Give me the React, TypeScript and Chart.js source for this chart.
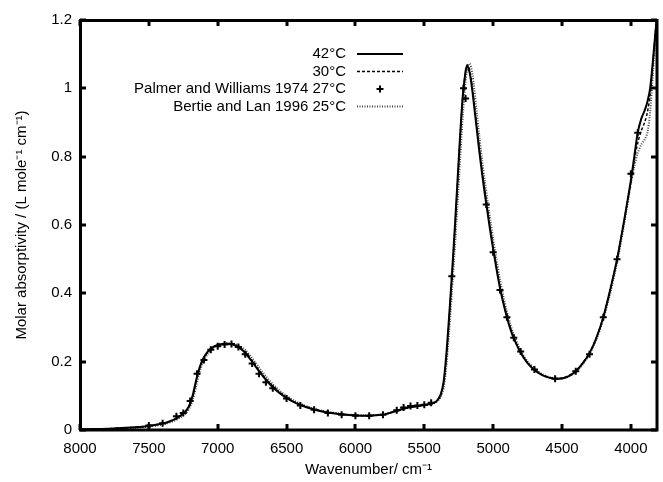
import React, { useEffect, useRef } from "react";
import { Chart, registerables } from "chart.js";

Chart.register(...registerables);

// ---------- data ----------
const xTickValues = [8000, 7500, 7000, 6500, 6000, 5500, 5000, 4500, 4000];
const yTickValues = [0, 0.2, 0.4, 0.6, 0.8, 1.0, 1.2];

const wnLine = [
  8000, 7900, 7800, 7700, 7600, 7500, 7400, 7350, 7300, 7250, 7220, 7200, 7180, 7160, 7140, 7120, 7100,
  7075, 7050, 7025, 7000, 6975, 6950, 6925, 6900, 6875, 6850, 6825, 6800, 6750, 6700, 6650, 6600, 6550,
  6500, 6450, 6400, 6350, 6300, 6250, 6200, 6150, 6100, 6050, 6000, 5950, 5900, 5850, 5800, 5750, 5700,
  5650, 5600, 5550, 5500, 5450, 5420, 5400, 5380, 5360, 5340, 5320, 5300, 5280, 5260, 5240, 5220, 5200,
  5190, 5180, 5170, 5160, 5150, 5140, 5120, 5100, 5080, 5060, 5040, 5020, 5000, 4975, 4950, 4925, 4900,
  4875, 4850, 4800, 4750, 4700, 4650, 4600, 4550, 4500, 4450, 4400, 4350, 4300, 4250, 4200, 4150, 4100,
  4050, 4000, 3975, 3950, 3925, 3900, 3880, 3860, 3840, 3820, 3810,
];

const abs42 = [
  0.002, 0.003, 0.004, 0.006, 0.008, 0.012, 0.019, 0.025, 0.034, 0.048, 0.062, 0.078, 0.104, 0.14, 0.172, 0.196, 0.213,
  0.228, 0.238, 0.245, 0.249, 0.251, 0.252, 0.252, 0.251, 0.248, 0.242, 0.235, 0.225, 0.2, 0.172, 0.147, 0.125, 0.108,
  0.094, 0.082, 0.073, 0.066, 0.06, 0.055, 0.051, 0.048, 0.046, 0.044, 0.043, 0.042, 0.042, 0.043, 0.045, 0.05, 0.056,
  0.062, 0.067, 0.07, 0.073, 0.077, 0.082, 0.09, 0.105, 0.14, 0.22, 0.33, 0.45, 0.58, 0.72, 0.86, 0.98, 1.05,
  1.065, 1.06, 1.045, 1.02, 0.99, 0.955, 0.885, 0.815, 0.75, 0.69, 0.635, 0.58, 0.53, 0.47, 0.415, 0.37, 0.33,
  0.296, 0.268, 0.226, 0.196, 0.176, 0.162, 0.154, 0.15, 0.151, 0.158, 0.172, 0.195, 0.225, 0.27, 0.33, 0.41, 0.5,
  0.61, 0.73, 0.8, 0.87, 0.91, 0.935, 0.96, 1.0, 1.08, 1.17, 1.21,
];

const abs30 = [
  0.002, 0.003, 0.004, 0.006, 0.008, 0.012, 0.019, 0.025, 0.034, 0.047, 0.06, 0.075, 0.1, 0.135, 0.168, 0.193, 0.211,
  0.227, 0.238, 0.245, 0.25, 0.252, 0.253, 0.253, 0.252, 0.249, 0.244, 0.237, 0.228, 0.203, 0.175, 0.15, 0.128, 0.11,
  0.096, 0.084, 0.075, 0.067, 0.061, 0.056, 0.052, 0.049, 0.046, 0.044, 0.043, 0.042, 0.042, 0.043, 0.045, 0.05, 0.056,
  0.062, 0.067, 0.07, 0.073, 0.077, 0.081, 0.088, 0.102, 0.135, 0.21, 0.32, 0.44, 0.57, 0.71, 0.85, 0.975, 1.05,
  1.068, 1.066, 1.052, 1.028, 0.998, 0.965, 0.895, 0.825, 0.76, 0.7, 0.643, 0.588, 0.537, 0.476, 0.42, 0.374, 0.333,
  0.298, 0.27, 0.227, 0.197, 0.177, 0.163, 0.155, 0.151, 0.152, 0.159, 0.173, 0.196, 0.226, 0.27, 0.33, 0.41, 0.5,
  0.61, 0.725, 0.79, 0.84, 0.875, 0.9, 0.93, 0.98, 1.07, 1.17, 1.21,
];

const absBertie = [
  0.0, 0.0, 0.001, 0.003, 0.006, 0.01, 0.016, 0.022, 0.03, 0.043, 0.055, 0.068, 0.09, 0.122, 0.156, 0.184, 0.204,
  0.221, 0.234, 0.243, 0.248, 0.251, 0.253, 0.254, 0.254, 0.252, 0.248, 0.242, 0.234, 0.21, 0.183, 0.157, 0.134, 0.115,
  0.1, 0.087, 0.077, 0.069, 0.062, 0.057, 0.053, 0.05, 0.047, 0.045, 0.044, 0.043, 0.043, 0.044, 0.046, 0.05, 0.056,
  0.062, 0.067, 0.07, 0.073, 0.076, 0.08, 0.086, 0.097, 0.122, 0.185, 0.285, 0.4, 0.52, 0.65, 0.79, 0.92, 1.02,
  1.05, 1.07, 1.072, 1.062, 1.04, 1.01, 0.935, 0.86, 0.79, 0.728, 0.67, 0.613, 0.56, 0.498, 0.44, 0.39, 0.347,
  0.31, 0.28, 0.233, 0.201, 0.18, 0.165, 0.156, 0.151, 0.151, 0.157, 0.17, 0.192, 0.222, 0.265, 0.325, 0.4, 0.49,
  0.6, 0.72, 0.77, 0.81, 0.835, 0.85, 0.87, 0.93, 1.04, 1.16, 1.21,
];

const wnPalmer = [
  7500, 7400, 7300, 7250, 7200, 7150, 7100, 7050, 7000, 6950, 6900, 6850, 6800, 6750, 6700, 6650, 6600, 6500,
  6400, 6300, 6200, 6100, 6000, 5900, 5800, 5700, 5650, 5600, 5550, 5500, 5450, 5300, 5215, 5200, 5050, 5000,
  4950, 4900, 4850, 4800, 4700, 4550, 4400, 4300, 4200, 4100, 4000, 3950,
];
const absPalmer = [
  0.013, 0.02, 0.04, 0.05, 0.085, 0.165, 0.205, 0.235, 0.245, 0.25, 0.252, 0.243, 0.222, 0.195, 0.165, 0.14,
  0.122, 0.092, 0.072, 0.059, 0.05, 0.045, 0.042, 0.042, 0.045, 0.058, 0.066, 0.07, 0.072, 0.074, 0.08, 0.45,
  1.0, 0.97, 0.66, 0.52, 0.41, 0.33, 0.27, 0.23, 0.177, 0.15, 0.172, 0.222, 0.33, 0.5, 0.75, 0.87,
];

const legendLabels = ["42°C", "30°C", "Palmer and Williams 1974 27°C", "Bertie and Lan 1996 25°C"];

const FONT = "'Liberation Sans', Arial, Helvetica, sans-serif";

const framePlugin = {
  id: "frameAndLegend",
  afterDatasetsDraw(chart: any) {
    const { ctx, chartArea, scales } = chart;
    const { left, right, top, bottom } = chartArea;
    const xs = scales.x;
    const ys = scales.y;
    ctx.save();
    ctx.strokeStyle = "#000";
    ctx.lineWidth = 3;
    ctx.strokeRect(left + 0.5, top + 0.5, right - left - 0.5, bottom - top - 0.5);
    ctx.lineWidth = 3;
    ctx.beginPath();
    xTickValues.forEach((v) => {
      const px = Math.round(xs.getPixelForValue(v));
      ctx.moveTo(px, bottom);
      ctx.lineTo(px, bottom - 6);
      ctx.moveTo(px, top);
      ctx.lineTo(px, top + 6);
    });
    yTickValues.forEach((v) => {
      const py = Math.round(ys.getPixelForValue(v));
      ctx.moveTo(left, py);
      ctx.lineTo(left + 6, py);
      ctx.moveTo(right, py);
      ctx.lineTo(right - 6, py);
    });
    ctx.stroke();

    // legend
    const rowsY = [54, 71.5, 89, 106.5];
    const textRight = 346;
    const sx0 = 357;
    const sx1 = 403;
    ctx.font = `15px ${FONT}`;
    ctx.textAlign = "right";
    ctx.textBaseline = "middle";
    ctx.fillStyle = "#000";
    chart.data.datasets.forEach((ds: any, i: number) => {
      const yy = rowsY[i];
      ctx.fillText(legendLabels[i], textRight, yy);
      if (ds.showLine === false) {
        const cx = (sx0 + sx1) / 2;
        ctx.lineWidth = 2;
        ctx.setLineDash([]);
        ctx.beginPath();
        ctx.moveTo(cx - 3.5, yy);
        ctx.lineTo(cx + 3.5, yy);
        ctx.moveTo(cx, yy - 3.5);
        ctx.lineTo(cx, yy + 3.5);
        ctx.stroke();
      } else {
        ctx.strokeStyle = ds.borderColor;
        ctx.lineWidth = ds.borderWidth;
        ctx.setLineDash(ds.borderDash || []);
        ctx.beginPath();
        ctx.moveTo(sx0, yy);
        ctx.lineTo(sx1, yy);
        ctx.stroke();
        ctx.setLineDash([]);
        ctx.strokeStyle = "#000";
      }
    });
    ctx.restore();
  },
};

export default function App() {
  const ref = useRef<HTMLCanvasElement>(null);
  useEffect(() => {
    document.body.style.margin = "0";
    const toPts = (xs: number[], ys: number[]) => xs.map((x, i) => ({ x, y: ys[i] }));
    const chart = new Chart(ref.current as HTMLCanvasElement, {
      type: "line",
      data: {
        datasets: [
          {
            label: legendLabels[0],
            data: toPts(wnLine, abs42),
            borderColor: "#000",
            borderWidth: 2,
            pointRadius: 0,
            tension: 0.3,
            fill: false,
          },
          {
            label: legendLabels[1],
            data: toPts(wnLine, abs30),
            borderColor: "#000",
            borderWidth: 1.5,
            borderDash: [3, 2],
            pointRadius: 0,
            tension: 0.3,
            fill: false,
          },
          {
            label: legendLabels[2],
            data: toPts(wnPalmer, absPalmer),
            showLine: false,
            borderColor: "#000",
            backgroundColor: "#000",
            pointStyle: "cross",
            pointRadius: 3.5,
            pointBorderWidth: 2,
          },
          {
            label: legendLabels[3],
            data: toPts(wnLine, absBertie),
            borderColor: "#444",
            borderWidth: 2,
            borderDash: [1, 1.5],
            pointRadius: 0,
            tension: 0.3,
            fill: false,
          },
        ],
      },
      options: {
        responsive: false,
        animation: false,
        devicePixelRatio: 1,
        layout: { padding: { top: 20, right: 3, left: 0, bottom: 0 } },
        plugins: { legend: { display: false }, tooltip: { enabled: false } },
        scales: {
          x: {
            type: "linear",
            reverse: true,
            min: 3810,
            max: 8000,
            afterBuildTicks: (s: any) => {
              s.ticks = xTickValues.map((v) => ({ value: v }));
            },
            afterFit: (s: any) => {
              s.height = 52;
            },
            grid: { display: false, drawTicks: false },
            border: { display: false },
            ticks: {
              color: "#000",
              font: { family: FONT, size: 15 },
              padding: 10,
              maxRotation: 0,
              autoSkip: false,
              callback: (v: any) => String(v),
            },
            title: {
              display: true,
              text: "Wavenumber/ cm⁻¹",
              color: "#000",
              font: { family: FONT, size: 15 },
              padding: { top: 0, bottom: 3 },
            },
          },
          y: {
            type: "linear",
            min: 0,
            max: 1.2,
            afterBuildTicks: (s: any) => {
              s.ticks = yTickValues.map((v) => ({ value: v }));
            },
            afterFit: (s: any) => {
              s.width = 80;
            },
            grid: { display: false, drawTicks: false },
            border: { display: false },
            ticks: {
              color: "#000",
              font: { family: FONT, size: 15 },
              padding: 8,
              autoSkip: false,
              callback: (v: any) => String(Math.round(Number(v) * 10) / 10),
            },
            title: {
              display: true,
              text: "Molar absorptivity / (L mole⁻¹ cm⁻¹)",
              color: "#000",
              font: { family: FONT, size: 15 },
              padding: { top: 13, bottom: 0 },
            },
          },
        },
      },
      plugins: [framePlugin],
    } as any);
    return () => chart.destroy();
  }, []);
  return (
    <div style={{ width: 663, height: 482 }}>
      <canvas ref={ref} width={663} height={482} style={{ display: "block" }} />
    </div>
  );
}
